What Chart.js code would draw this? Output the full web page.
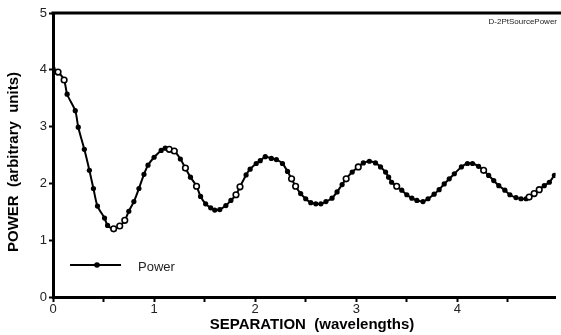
<!DOCTYPE html>
<html>
<head>
<meta charset="utf-8">
<script src="https://cdn.jsdelivr.net/npm/chart.js@4"></script>
<style>
  body { margin: 0; background: #fff; }
  #wrap { width: 561px; height: 335px; }
</style>
</head>
<body>
<div id="wrap"><canvas id="power_chart"></canvas></div>
<script>
// separation (wavelengths) and power
const separation = [0, 0.05, 0.11, 0.14, 0.22, 0.25, 0.31, 0.36, 0.40, 0.44, 0.51, 0.54, 0.60, 0.66, 0.71, 0.75, 0.80, 0.85, 0.90, 0.94,
  1.00, 1.07, 1.11, 1.15, 1.20, 1.26, 1.31, 1.36, 1.42, 1.46, 1.51, 1.56, 1.60, 1.65, 1.71, 1.76, 1.81, 1.85, 1.91, 1.95,
  2.01, 2.05, 2.10, 2.16, 2.21, 2.27, 2.32, 2.36, 2.40, 2.45, 2.50, 2.55, 2.60, 2.65, 2.70, 2.76, 2.81, 2.86, 2.90, 2.96,
  3.02, 3.07, 3.13, 3.19, 3.24, 3.29, 3.32, 3.35, 3.40, 3.45, 3.50, 3.55, 3.60, 3.66, 3.71, 3.77, 3.82, 3.87, 3.92, 3.97,
  4.04, 4.10, 4.15, 4.21, 4.26, 4.31, 4.36, 4.41, 4.47, 4.52, 4.58, 4.63, 4.68, 4.71, 4.76, 4.81, 4.86, 4.91, 4.96, 5.00]
const power = [4.02, 3.96, 3.82, 3.57, 3.28, 2.99, 2.60, 2.23, 1.91, 1.60, 1.39, 1.26, 1.20, 1.25, 1.35, 1.51, 1.68, 1.91, 2.16, 2.32,
  2.46, 2.58, 2.62, 2.60, 2.57, 2.43, 2.27, 2.11, 1.95, 1.77, 1.64, 1.57, 1.53, 1.54, 1.61, 1.70, 1.80, 1.94, 2.15, 2.25,
  2.35, 2.40, 2.47, 2.44, 2.42, 2.35, 2.21, 2.08, 1.95, 1.82, 1.73, 1.66, 1.64, 1.64, 1.68, 1.74, 1.85, 1.98, 2.08, 2.20,
  2.29, 2.36, 2.39, 2.36, 2.29, 2.20, 2.11, 2.02, 1.95, 1.88, 1.80, 1.74, 1.70, 1.68, 1.73, 1.81, 1.89, 1.99, 2.08, 2.17,
  2.29, 2.35, 2.35, 2.30, 2.23, 2.14, 2.05, 1.96, 1.88, 1.80, 1.75, 1.73, 1.73, 1.76, 1.82, 1.89, 1.96, 2.02, 2.14, 2.20]

// the points that are drawn as open circles
const open_x = [0.05, 0.11, 0.60, 0.66, 0.71, 1.15, 1.20, 1.31, 1.42, 1.81, 1.85, 2.36, 2.40, 2.90, 3.02, 3.40, 4.26, 4.71, 4.76, 4.81]
const open_y = [3.96, 3.82, 1.20, 1.25, 1.35, 2.60, 2.57, 2.27, 1.95, 1.80, 1.94, 2.08, 1.95, 2.08, 2.29, 1.95, 2.23, 1.76, 1.82, 1.89]

const y_ticks = [0, 1, 2, 3, 4, 5]
const x_ticks = [0, 0.5, 1, 1.5, 2, 2.5, 3, 3.5, 4, 4.5]

const font_family = "'Liberation Sans', Arial, sans-serif"

// extra drawing: top frame line, axis titles, legend, file tag
const decorations = {
  id: 'decorations',
  afterDraw(chart) {
    const ctx = chart.ctx
    const area = chart.chartArea
    ctx.save()
    ctx.strokeStyle = '#000'
    ctx.lineWidth = 3
    ctx.beginPath()
    ctx.moveTo(area.left - 1.5, area.top)
    ctx.lineTo(chart.width, area.top)
    ctx.stroke()

    ctx.fillStyle = '#000'
    ctx.font = 'bold 15px ' + font_family
    ctx.textAlign = 'center'
    ctx.textBaseline = 'middle'
    ctx.fillText('SEPARATION  (wavelengths)', 312, 325)

    ctx.save()
    ctx.translate(14, 162)
    ctx.rotate(-Math.PI / 2)
    ctx.fillText('POWER  (arbitrary  units)', 0, 0)
    ctx.restore()

    // legend
    ctx.lineWidth = 2
    ctx.beginPath()
    ctx.moveTo(70, 265)
    ctx.lineTo(121, 265)
    ctx.stroke()
    ctx.beginPath()
    ctx.arc(97, 265, 2.8, 0, Math.PI * 2)
    ctx.fill()
    ctx.font = '13px ' + font_family
    ctx.textAlign = 'left'
    ctx.fillStyle = '#222'
    ctx.fillText('Power', 138, 267)

    ctx.font = '8px ' + font_family
    ctx.textAlign = 'right'
    ctx.fillText('D-2PtSourcePower', 557, 22)
    ctx.restore()
  }
}

const config = {
  type: 'line',
  data: {
    datasets: [
      {
        label: 'Power',
        data: separation.map((x, i) => ({ x: x, y: power[i] })),
        borderColor: '#000',
        backgroundColor: '#000',
        borderWidth: 2,
        pointRadius: 2.6,
        pointBorderWidth: 0,
        tension: 0.3,
        order: 1
      },
      {
        label: 'open',
        data: open_x.map((x, i) => ({ x: x, y: open_y[i] })),
        showLine: false,
        borderColor: '#000',
        backgroundColor: '#fff',
        pointRadius: 2.8,
        pointBorderWidth: 1.6,
        order: 0
      }
    ]
  },
  options: {
    responsive: true,
    maintainAspectRatio: false,
    animation: false,
    layout: { padding: { top: 13, right: 0, left: 0, bottom: 0 } },
    plugins: {
      legend: { display: false },
      tooltip: { enabled: false }
    },
    scales: {
      x: {
        type: 'linear',
        min: 0,
        max: 4.97,
        afterBuildTicks: (axis) => { axis.ticks = x_ticks.map(v => ({ value: v })) },
        afterFit: (axis) => { axis.height = 38 },
        grid: { display: true, drawOnChartArea: false, tickLength: 5, tickWidth: 2, tickColor: '#000' },
        border: { display: true, color: '#000', width: 3 },
        ticks: {
          autoSkip: false,
          maxRotation: 0,
          padding: 0,
          color: '#222',
          font: { family: font_family, size: 13 },
          callback: (v) => Number.isInteger(v) ? String(v) : ''
        }
      },
      y: {
        min: 0,
        max: 5,
        afterBuildTicks: (axis) => { axis.ticks = y_ticks.map(v => ({ value: v })) },
        afterFit: (axis) => { axis.width = 53 },
        grid: { display: true, drawOnChartArea: false, tickLength: 4, tickWidth: 2, tickColor: '#000' },
        border: { display: true, color: '#000', width: 3 },
        ticks: {
          padding: 2,
          color: '#222',
          font: { family: font_family, size: 13 }
        }
      }
    }
  },
  plugins: [decorations]
}

const power_chart = new Chart(document.getElementById('power_chart'), config)
</script>
</body>
</html>
